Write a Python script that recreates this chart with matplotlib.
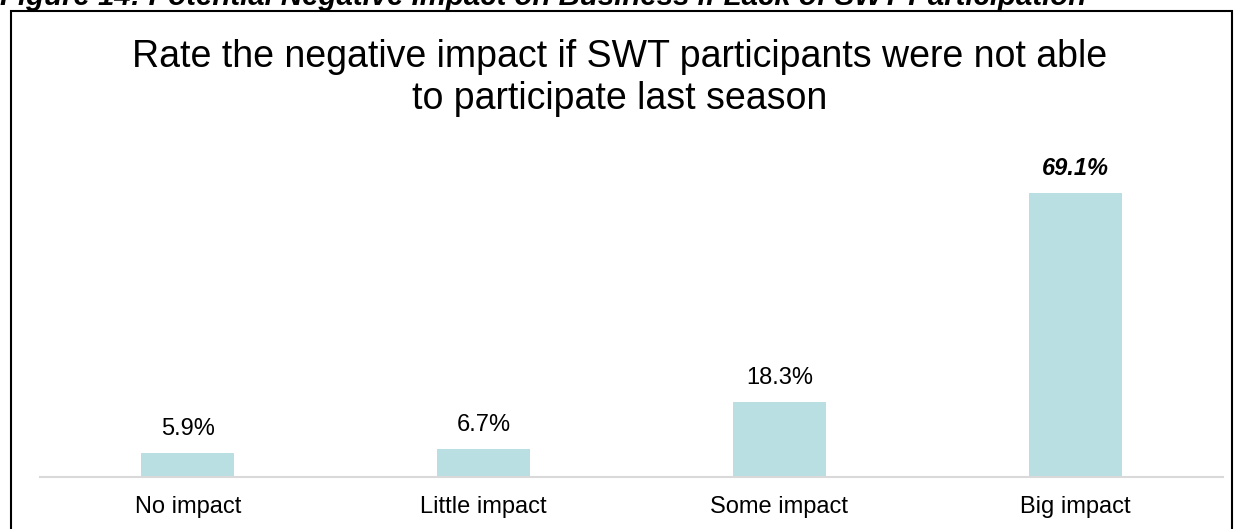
import matplotlib.pyplot as plt
from matplotlib.patches import Rectangle

plt.rcParams['font.family'] = ['Liberation Sans', 'DejaVu Sans']

categories = ["No impact", "Little impact", "Some impact", "Big impact"]
shares = [5.9, 6.7, 18.3, 69.1]
labels = ["5.9%", "6.7%", "18.3%", "69.1%"]

W, H = 1238, 529
fig = plt.figure(figsize=(W / 100, H / 100), dpi=100)

# figure caption, partly clipped by the top edge
fig.text(0.0, 1 - 5 / H, "Figure 14: Potential Negative Impact on Business if Lack of SWT Participation",
         fontsize=21.2, fontweight='bold', fontstyle='italic', ha='left', va='baseline')

# frame around the chart
fig.patches.append(Rectangle((11 / W, -0.05), (1232 - 11) / W, 1.05 - 11 / H,
                             transform=fig.transFigure, fill=False,
                             edgecolor='black', linewidth=1.5))

fig.text(620 / W, 1 - 39 / H,
         "Rate the negative impact if SWT participants were not able\nto participate last season",
         fontsize=27, ha='center', va='top', linespacing=1.2)

ax = fig.add_axes([40 / W, (H - 477) / H, 1183 / W, 329 / H])
x = range(len(categories))
bars = ax.bar(x, shares, width=0.315, color='#B9DFE2')

for i, (b, lab) in enumerate(zip(bars, labels)):
    big = i == len(labels) - 1
    ax.annotate(lab, (b.get_x() + b.get_width() / 2, b.get_height()),
                xytext=(0, 9.5), textcoords='offset points', ha='center', va='bottom',
                fontsize=17, fontweight='bold' if big else 'normal',
                fontstyle='italic' if big else 'normal')

ax.set_xlim(-0.5, 3.5)
ax.set_ylim(0, 80)
ax.set_xticks(list(x))
ax.set_xticklabels(categories, fontsize=17)
ax.tick_params(axis='x', length=0, pad=14)
ax.set_yticks([])
for s in ['top', 'right', 'left']:
    ax.spines[s].set_visible(False)
ax.spines['bottom'].set_color('#D9D9D9')
ax.spines['bottom'].set_linewidth(1.5)

fig.savefig('out.png', dpi=100)
